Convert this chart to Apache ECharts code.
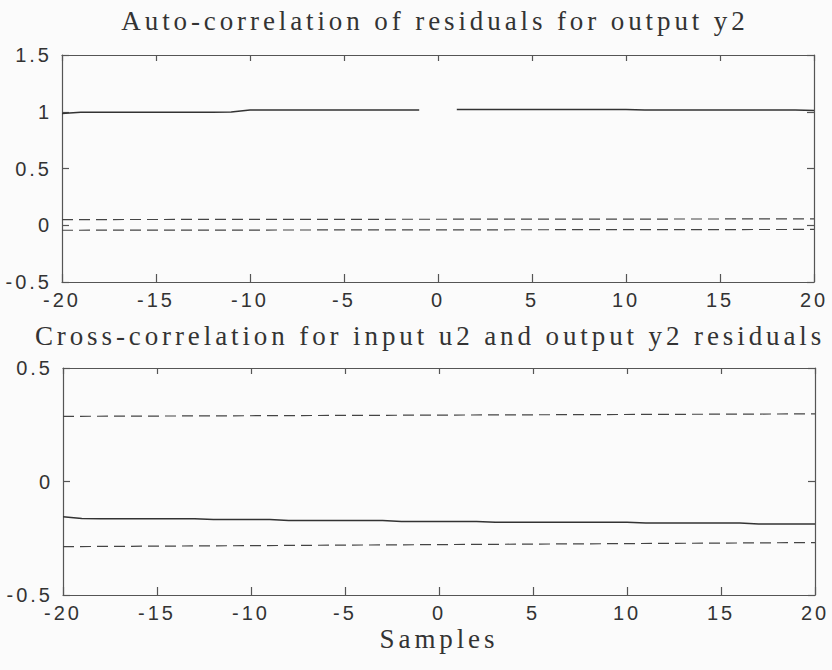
<!DOCTYPE html>
<html><head><meta charset="utf-8">
<script src="https://cdn.jsdelivr.net/npm/echarts@6/dist/echarts.min.js"></script>
<style>
html,body{margin:0;padding:0;background:#fbfbfb;}
#c{width:832px;height:670px;}
#c text[style*="Serif"]{letter-spacing:3.9px;}
#c text[style*="Liberation Sans"]{letter-spacing:3px;}
</style></head><body><div id="c"></div>
<script>
// Lags (samples)
const lags = [-20,-19,-18,-17,-16,-15,-14,-13,-12,-11,-10,-9,-8,-7,-6,-5,-4,-3,-2,-1,0,1,2,3,4,5,6,7,8,9,10,11,12,13,14,15,16,17,18,19,20];
// Auto-correlation of residuals for output y2 (gap at lag 0)
const autoCorr = [0.985,0.995,0.995,0.995,0.995,0.995,0.995,0.995,0.995,0.998,1.015,1.015,1.015,1.015,1.015,1.015,1.015,1.015,1.015,1.015,null,1.02,1.02,1.02,1.02,1.02,1.02,1.02,1.02,1.02,1.02,1.015,1.015,1.015,1.015,1.015,1.015,1.015,1.015,1.015,1.012];
// Confidence bounds (values at the two ends of the lag range)
const boundLags = [-20, 20];
const autoUpper = [0.050, 0.056];
const autoLower = [-0.044, -0.037];
// Cross-correlation for input u2 and output y2 residuals
const crossCorr = [-0.155,-0.163,-0.164,-0.164,-0.164,-0.164,-0.164,-0.164,-0.167,-0.167,-0.167,-0.167,-0.172,-0.172,-0.172,-0.172,-0.172,-0.172,-0.176,-0.176,-0.176,-0.176,-0.176,-0.180,-0.180,-0.180,-0.180,-0.180,-0.180,-0.180,-0.180,-0.183,-0.183,-0.183,-0.183,-0.183,-0.183,-0.187,-0.187,-0.187,-0.187];
const crossUpper = [0.287, 0.298];
const crossLower = [-0.287, -0.269];
// Axis ranges / ticks
const xRange = [-20, 20], xStep = 5;
const yAutoRange = [-0.5, 1.5], yCrossRange = [-0.5, 0.5], yStep = 0.5;
const titles = ['Auto-correlation of residuals for output y2', 'Cross-correlation for input u2 and output y2 residuals'];
const xName = 'Samples';

const lineCol = '#333', axisCol = '#555', txtCol = '#333';
const serif = 'Liberation Serif', sans = 'Liberation Sans';

function xAx(grid, pos, labels, name) {
  return {
    type: 'value', gridIndex: grid, position: pos, min: xRange[0], max: xRange[1], interval: xStep,
    axisLine: {show: true, onZero: false, lineStyle: {color: axisCol, width: 1.2}},
    axisTick: {show: true, inside: true, length: pos === 'bottom' ? 8 : 6, lineStyle: {color: axisCol, width: 1.2}},
    axisLabel: {show: labels, margin: 8, fontFamily: sans, fontSize: 20, color: txtCol},
    splitLine: {show: false},
    name: name || '', nameLocation: 'middle', nameGap: 30,
    nameTextStyle: {fontFamily: serif, fontSize: 27, color: txtCol}
  };
}
function yAx(grid, pos, range, labels) {
  return {
    type: 'value', gridIndex: grid, position: pos, min: range[0], max: range[1], interval: yStep,
    axisLine: {show: true, onZero: false, lineStyle: {color: axisCol, width: 1.2}},
    axisTick: {show: true, inside: true, length: 7, lineStyle: {color: axisCol, width: 1.2}},
    axisLabel: {show: labels, margin: 10, fontFamily: sans, fontSize: 20, color: txtCol},
    splitLine: {show: false}
  };
}
function pairs(xs, ys) { return xs.map((x, i) => [x, ys[i]]); }
function solid(xi, yi, data) {
  return {type: 'line', xAxisIndex: xi, yAxisIndex: yi, data: data, showSymbol: false, connectNulls: false,
    lineStyle: {color: lineCol, width: 1.5}, silent: true};
}
function dashed(xi, yi, data) {
  return {type: 'line', xAxisIndex: xi, yAxisIndex: yi, data: data, showSymbol: false,
    lineStyle: {color: '#444', width: 1.2, type: [11, 6]}, silent: true};
}

const chart = echarts.init(document.getElementById('c'), null, {renderer: 'svg'});
chart.setOption({
  animation: false,
  backgroundColor: '#fbfbfb',
  title: [
    {text: titles[0], left: 435, top: 7, textAlign: 'center', padding: 0,
     textStyle: {fontFamily: serif, fontSize: 27, fontWeight: 'normal', color: txtCol}},
    {text: titles[1], left: 430, top: 322, textAlign: 'center', padding: 0,
     textStyle: {fontFamily: serif, fontSize: 27, fontWeight: 'normal', color: txtCol}}
  ],
  grid: [
    {left: 62, top: 55, width: 752, height: 227},
    {left: 63, top: 368, width: 752, height: 227}
  ],
  xAxis: [xAx(0, 'bottom', true), xAx(0, 'top', false), xAx(1, 'bottom', true, xName), xAx(1, 'top', false)],
  yAxis: [yAx(0, 'left', yAutoRange, true), yAx(0, 'right', yAutoRange, false),
          yAx(1, 'left', yCrossRange, true), yAx(1, 'right', yCrossRange, false)],
  series: [
    solid(0, 0, pairs(lags, autoCorr)),
    dashed(0, 0, pairs(boundLags, autoUpper)),
    dashed(0, 0, pairs(boundLags, autoLower)),
    solid(2, 2, pairs(lags, crossCorr)),
    dashed(2, 2, pairs(boundLags, crossUpper)),
    dashed(2, 2, pairs(boundLags, crossLower))
  ]
});
</script></body></html>
